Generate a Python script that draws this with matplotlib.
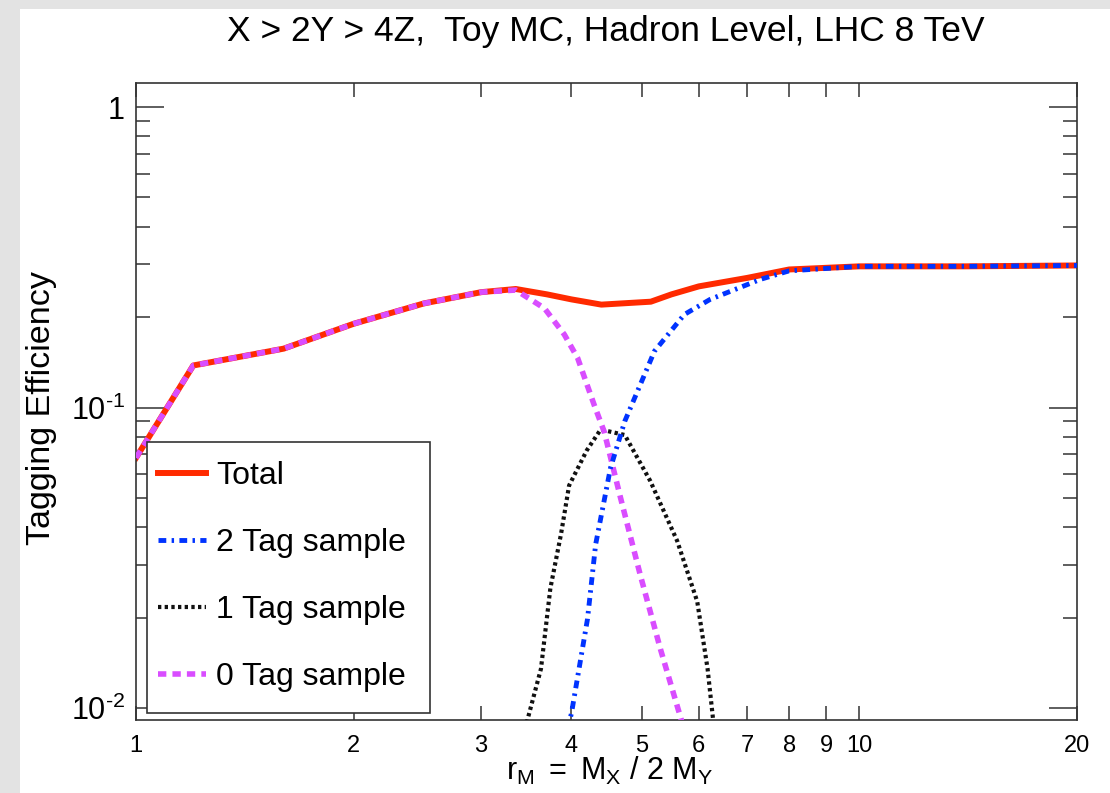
import matplotlib
matplotlib.use('Agg')
import matplotlib.pyplot as plt
from matplotlib.patches import Rectangle
from matplotlib.ticker import FixedLocator

plt.rcParams['font.family'] = ['Liberation Sans', 'DejaVu Sans']
plt.rcParams['mathtext.fontset'] = 'custom'
plt.rcParams['mathtext.rm'] = 'Liberation Sans'
plt.rcParams['mathtext.it'] = 'Liberation Sans'

# Total efficiency
x_total = [1.0, 1.2, 1.6, 2.0, 2.5, 3.0, 3.35, 3.7, 4.0, 4.4, 5.15, 5.5, 6.0, 7.0, 8.0, 10.0, 14.0, 20.0]
y_total = [0.068, 0.138, 0.157, 0.19, 0.222, 0.242, 0.248, 0.238, 0.229, 0.22, 0.225, 0.238, 0.253, 0.27, 0.288, 0.295, 0.295, 0.297]

# 2 Tag sample
x_two = [3.95, 4.0, 4.21, 4.32, 4.53, 4.74, 5.21, 5.73, 6.22, 7.3, 8.0, 10.0, 14.0, 20.0]
y_two = [0.0085, 0.0096, 0.0198, 0.035, 0.063, 0.09, 0.154, 0.204, 0.229, 0.267, 0.285, 0.295, 0.295, 0.297]

# 1 Tag sample
x_one = [3.45, 3.63, 3.74, 3.87, 3.97, 4.2, 4.39, 4.74, 5.14, 5.6, 5.97, 6.17, 6.3]
y_one = [0.0085, 0.0135, 0.025, 0.038, 0.055, 0.072, 0.0845, 0.081, 0.057, 0.036, 0.0226, 0.0135, 0.0085]

# 0 Tag sample
x_zero = [1.0, 1.2, 1.6, 2.0, 2.5, 3.0, 3.35, 3.67, 3.91, 4.08, 4.3, 4.44, 4.68, 4.98, 5.31, 5.7]
y_zero = [0.068, 0.138, 0.157, 0.19, 0.222, 0.242, 0.246, 0.214, 0.175, 0.146, 0.102, 0.083, 0.0497, 0.0277, 0.0157, 0.0088]

x_ticks = [1, 2, 3, 4, 5, 6, 7, 8, 9, 10, 20]

fig = plt.figure(figsize=(11.1, 7.93), dpi=100)
fig.patch.set_facecolor('#e3e3e3')
fig.patches.append(Rectangle((20 / 1110, 0), 1, 1 - 9 / 793, transform=fig.transFigure,
                             facecolor='white', edgecolor='none', zorder=-10))

ax = fig.add_axes([136 / 1110, 1 - 720 / 793, 941 / 1110, 637 / 793])
ax.set_zorder(1)
ax.set_xscale('log')
ax.set_yscale('log')

ax.plot(x_total, y_total, color='#ff2a00', lw=4.3, label='Total', zorder=2)
ax.plot(x_two, y_two, color='#0033ff', lw=3.5, dashes=(1.6, 1.1, 0.5, 1.1), label='2 Tag sample', zorder=4)
ax.plot(x_one, y_one, color='#111111', lw=3.0, dashes=(0.8, 0.8), label='1 Tag sample', zorder=3)
ax.plot(x_zero, y_zero, color='#d94dff', lw=4.0, dashes=(1.5, 1.1), label='0 Tag sample', zorder=3)

h, l = ax.get_legend_handles_labels()

ax.set_xlim(1, 20)
ax.set_ylim(10 ** -2.04, 10 ** 0.08)

ax.set_xticks(x_ticks)
ax.set_xticklabels([str(t) for t in x_ticks])
ax.xaxis.set_minor_locator(FixedLocator([]))
ax.set_yticks([0.01, 0.1, 1])
ax.set_yticklabels([r'$\mathregular{10^{\text{-}2}}$', r'$\mathregular{10^{\text{-}1}}$', '1'])

ax.tick_params(which='both', direction='in', top=True, right=True, color='#333333', width=1.1)
ax.tick_params(axis='y', which='major', length=20, labelsize=22, pad=8)
ax.tick_params(axis='y', which='minor', length=10)
ax.tick_params(axis='x', which='major', length=10, labelsize=17, pad=11)
for s in ax.spines.values():
    s.set_linewidth(1.2)
    s.set_color('#333333')

fig.text(42 / 1110, 1 - 408 / 793, 'Tagging Efficiency', fontsize=24.5,
         rotation=90, ha='center', va='center')
fig.text(610 / 1110, 1 - 771 / 793, r'$\mathregular{r_M\ =\ M_X\ /\ 2\ M_Y}$',
         fontsize=22, ha='center', va='center')
fig.text(606 / 1110, 1 - 31 / 793, 'X > 2Y > 4Z,  Toy MC, Hadron Level, LHC 8 TeV',
         fontsize=25.5, ha='center', va='center')

# legend box drawn by hand, entries from ax.legend without frame
ax.add_patch(Rectangle((0.0117, 0.011), 0.3007, 0.4254, transform=ax.transAxes,
                       facecolor='white', edgecolor='#333333', lw=1.2, zorder=5))
leg = ax.legend(h, l, loc='upper left', bbox_to_anchor=(0.0117, 0.4239), borderaxespad=0,
                fontsize=23, frameon=False, handlelength=1.5, handletextpad=0.33,
                labelspacing=1.16, borderpad=0.345)
leg.set_zorder(6)

fig.savefig('out.png', dpi=100, facecolor=fig.get_facecolor())
